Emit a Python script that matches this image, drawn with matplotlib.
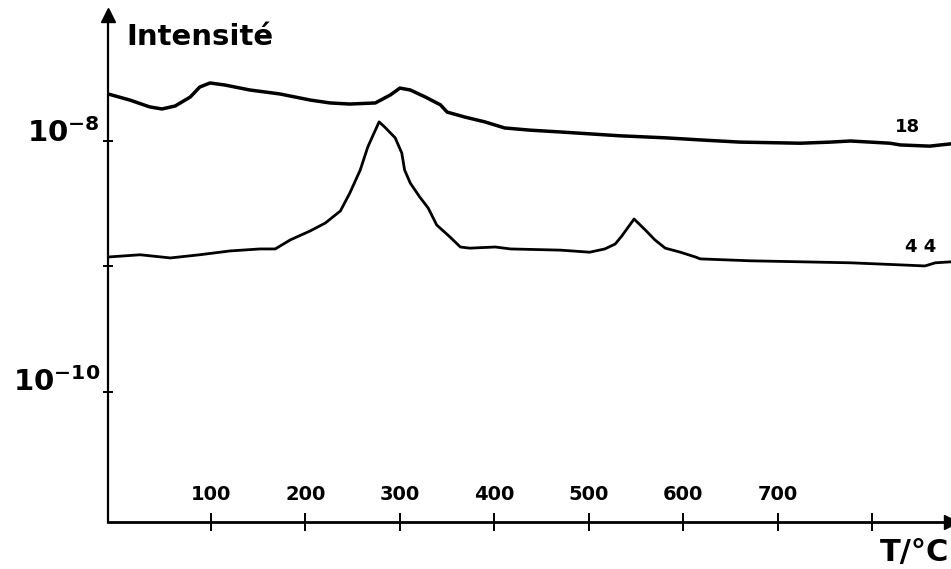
import numpy as np
import matplotlib
matplotlib.use("Agg")
import matplotlib.pyplot as plt
from matplotlib.transforms import blended_transform_factory

# Temperature (°C) and intensity for mass 18
t_18 = [-9, 14, 35, 48, 62, 78, 88, 99, 115, 141, 173, 205, 226, 247, 274,
        290, 300, 311, 327, 343, 350, 369, 390, 411, 438, 470, 501, 533, 581,
        618, 660, 724, 756, 777, 798, 819, 830, 861, 884]
i_18 = [2.37e-8, 2.12e-8, 1.87e-8, 1.80e-8, 1.90e-8, 2.24e-8, 2.69e-8, 2.90e-8,
        2.79e-8, 2.55e-8, 2.37e-8, 2.12e-8, 2.01e-8, 1.97e-8, 2.01e-8, 2.33e-8,
        2.64e-8, 2.55e-8, 2.24e-8, 1.94e-8, 1.70e-8, 1.55e-8, 1.42e-8, 1.27e-8,
        1.22e-8, 1.18e-8, 1.14e-8, 1.10e-8, 1.06e-8, 1.02e-8, 0.98e-8, 0.96e-8,
        0.98e-8, 1.00e-8, 0.98e-8, 0.96e-8, 0.93e-8, 0.91e-8, 0.95e-8]

# same for mass 44
t_44 = [-9, 25, 57, 88, 120, 152, 168, 184, 205, 221, 237, 247, 258, 266, 274,
        278, 284, 295, 302, 305, 311, 321, 330, 339, 353, 364, 374, 401, 417,
        470, 501, 517, 528, 535, 548, 560, 570, 581, 597, 613, 618, 671, 724,
        777, 830, 856, 867, 884]
i_44 = [1.19e-9, 1.24e-9, 1.17e-9, 1.24e-9, 1.33e-9, 1.38e-9, 1.38e-9, 1.63e-9,
        1.92e-9, 2.22e-9, 2.77e-9, 3.85e-9, 5.87e-9, 8.96e-9, 1.22e-8, 1.42e-8,
        1.29e-8, 1.06e-8, 8.02e-9, 5.87e-9, 4.62e-9, 3.58e-9, 2.92e-9, 2.14e-9,
        1.72e-9, 1.43e-9, 1.40e-9, 1.43e-9, 1.38e-9, 1.35e-9, 1.30e-9, 1.38e-9,
        1.51e-9, 1.75e-9, 2.39e-9, 1.95e-9, 1.63e-9, 1.40e-9, 1.30e-9, 1.19e-9,
        1.15e-9, 1.11e-9, 1.09e-9, 1.07e-9, 1.03e-9, 1.01e-9, 1.07e-9, 1.09e-9]

x_ticks = [100, 200, 300, 400, 500, 600, 700, 800]
x_labels = ["100", "200", "300", "400", "500", "600", "700", ""]
y_ticks = [1e-8, 1e-9, 1e-10]

# curve labels (mass numbers) near the right end
curve_names = ["18", "4 4"]
curve_pos = [(838, 1.29e-8), (851, 1.43e-9)]

W, H = 951, 569
fig = plt.figure(figsize=(W / 100, H / 100), dpi=100)
ax = fig.add_axes([108 / W, (H - 522) / H, (W - 108) / W, (522 - 15) / H])

ax.plot(t_18, i_18, color="black", lw=2.5, solid_joinstyle="round")
ax.plot(t_44, i_44, color="black", lw=2.0, solid_joinstyle="round")

ax.set_yscale("log")
ax.set_xlim(-9.1, 883.6)
ax.set_ylim(10 ** -11.036, 10 ** -6.996)

for s in ["top", "right"]:
    ax.spines[s].set_visible(False)
ax.spines["left"].set_linewidth(1.6)
ax.spines["bottom"].set_linewidth(2.0)

# arrow heads on the axes
ax.plot(1, 0, ">", color="black", ms=10, transform=ax.transAxes, clip_on=False)
ax.plot(0, 1, "^", color="black", ms=10, transform=ax.transAxes, clip_on=False)

ax.set_xticks(x_ticks)
ax.set_xticklabels([])
ax.tick_params(axis="x", direction="inout", length=13, width=1.4)
ax.set_yticks(y_ticks)
ax.yaxis.set_minor_locator(matplotlib.ticker.NullLocator())
ax.set_yticklabels([])
ax.tick_params(axis="y", direction="inout", length=7, width=1.4)

trans = blended_transform_factory(ax.transData, ax.transAxes)
for t, lab in zip(x_ticks, x_labels):
    ax.text(t, 0.036, lab, transform=trans, ha="center", va="bottom",
            fontsize=14, fontweight="bold")

for name, (t, v) in zip(curve_names, curve_pos):
    ax.text(t, v, name, fontsize=13, fontweight="bold", ha="center", va="center")

fig.text(126 / W, 1 - 37 / H, "Intensité", fontsize=21, fontweight="bold",
         ha="left", va="center")
fig.text(100 / W, 1 - 133 / H, r"$\mathbf{10^{-8}}$", fontsize=21,
         ha="right", va="center")
fig.text(100 / W, 1 - 382 / H, r"$\mathbf{10^{-10}}$", fontsize=21,
         ha="right", va="center")
fig.text(949 / W, 1 - 553 / H, "T/°C", fontsize=22, fontweight="bold",
         ha="right", va="center")

fig.savefig("out.png", dpi=100)
